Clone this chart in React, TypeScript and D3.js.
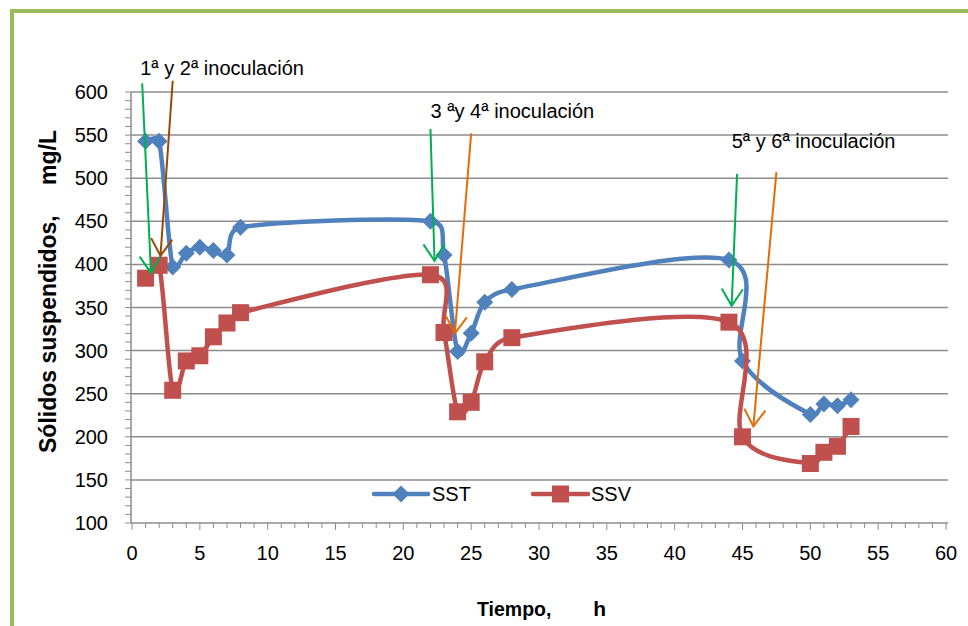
import React from "react";
import * as d3 from "d3";

const sstX = [1, 2, 3, 4, 5, 6, 7, 8, 22, 23, 24, 25, 26, 28, 44, 45, 50, 51, 52, 53];
const sstY = [543, 543, 397, 413, 420, 416, 411, 443, 450, 411, 299, 320, 356, 371, 405, 288, 226, 238, 236, 243];
const ssvX = [1, 2, 3, 4, 5, 6, 7, 8, 22, 23, 24, 25, 26, 28, 44, 45, 50, 51, 52, 53];
const ssvY = [384, 399, 254, 288, 294, 316, 332, 344, 388, 321, 229, 240, 287, 315, 333, 200, 169, 182, 189, 212];
const xTicks = [0, 5, 10, 15, 20, 25, 30, 35, 40, 45, 50, 55, 60];
const yTicks = [100, 150, 200, 250, 300, 350, 400, 450, 500, 550, 600];

// annotation arrows in data units
const arrowData: { x0: number; y0: number; x1: number; y1: number; color: string }[] = [
  { x0: 0.75, y0: 610, x1: 1.4, y1: 390, color: "#00B050" },
  { x0: 3.0, y0: 613, x1: 2.1, y1: 410, color: "#984807" },
  { x0: 22.0, y0: 557, x1: 22.3, y1: 404, color: "#00B050" },
  { x0: 25.0, y0: 552, x1: 23.8, y1: 320, color: "#E36C09" },
  { x0: 44.6, y0: 505, x1: 44.2, y1: 352, color: "#00B050" },
  { x0: 47.5, y0: 507, x1: 45.8, y1: 212, color: "#E36C09" },
];
const labels = ["1ª y 2ª inoculación", "3 ªy 4ª inoculación", "5ª y 6ª inoculación"];
const labelPos = [
  { x: 0.6, y: 620 },
  { x: 22.0, y: 570 },
  { x: 44.2, y: 535 },
];

const W = 968;
const H = 626;
const L = 131, R = 946, T = 92, B = 523;
const FONT = "'Liberation Sans', Arial, sans-serif";

// Excel-like smoothed curve: uniform Catmull-Rom tangents with arm length clamped
function excelSmooth(context: any) {
  let pts: [number, number][] = [];
  return {
    areaStart() {},
    areaEnd() {},
    lineStart() {
      pts = [];
    },
    point(px: number, py: number) {
      pts.push([+px, +py]);
    },
    lineEnd() {
      const n = pts.length;
      if (!n) return;
      context.moveTo(pts[0][0], pts[0][1]);
      for (let i = 0; i < n - 1; i++) {
        const p0 = pts[Math.max(0, i - 1)];
        const p1 = pts[i];
        const p2 = pts[i + 1];
        const p3 = pts[Math.min(n - 1, i + 2)];
        const seg = Math.hypot(p2[0] - p1[0], p2[1] - p1[1]);
        let a1x = (p2[0] - p0[0]) / 6, a1y = (p2[1] - p0[1]) / 6;
        let a2x = (p3[0] - p1[0]) / 6, a2y = (p3[1] - p1[1]) / 6;
        const l1 = Math.hypot(a1x, a1y), l2 = Math.hypot(a2x, a2y);
        const maxL = seg * 0.5;
        if (l1 > maxL && l1 > 0) { a1x *= maxL / l1; a1y *= maxL / l1; }
        if (l2 > maxL && l2 > 0) { a2x *= maxL / l2; a2y *= maxL / l2; }
        context.bezierCurveTo(p1[0] + a1x, p1[1] + a1y, p2[0] - a2x, p2[1] - a2y, p2[0], p2[1]);
      }
    },
  };
}

export default function App() {
  const x = d3.scaleLinear().domain([0, 60]).range([L + 1, R]);
  const y = d3.scaleLinear().domain([100, 600]).range([B, T]);
  const line = d3
    .line<[number, number]>()
    .x((d) => x(d[0]))
    .y((d) => y(d[1]))
    .curve(excelSmooth as any);
  const sst = sstX.map((v, i) => [v, sstY[i]] as [number, number]);
  const ssv = ssvX.map((v, i) => [v, ssvY[i]] as [number, number]);
  const blue = "#4F81BD";
  const red = "#C0504D";
  const grid = "#8C8C8C";
  const minorY = d3.range(100, 601, 10);
  const minorX = d3.range(0, 61, 1);

  const diamond = (cx: number, cy: number, r: number) =>
    `M${cx},${cy - r}L${cx + r},${cy}L${cx},${cy + r}L${cx - r},${cy}Z`;

  const arrow = (a: typeof arrowData[0], i: number) => {
    const x0 = x(a.x0), y0 = y(a.y0), x1 = x(a.x1), y1 = y(a.y1);
    const ang = Math.atan2(y1 - y0, x1 - x0);
    const len = 20;
    const sp = (32 * Math.PI) / 180;
    const w1x = x1 - len * Math.cos(ang - sp), w1y = y1 - len * Math.sin(ang - sp);
    const w2x = x1 - len * Math.cos(ang + sp), w2y = y1 - len * Math.sin(ang + sp);
    return (
      <g key={"a" + i} stroke={a.color} strokeWidth={2} fill="none">
        <line x1={x0} y1={y0} x2={x1} y2={y1} />
        <polyline points={`${w1x},${w1y} ${x1},${y1} ${w2x},${w2y}`} />
      </g>
    );
  };

  return (
    <svg width={W} height={H} style={{ position: "absolute", left: 0, top: 0, background: "#fff" }} fontFamily={FONT}>
      <rect x={0} y={0} width={W} height={H} fill="#fff" />
      {/* green frame */}
      <line x1={12} y1={11} x2={W} y2={11} stroke="#9BBB59" strokeWidth={4} />
      <line x1={12} y1={9} x2={12} y2={H} stroke="#9BBB59" strokeWidth={4} />

      {/* gridlines */}
      {yTicks.slice(1).map((t) => (
        <line key={"g" + t} x1={L} x2={R + 2} y1={y(t)} y2={y(t)} stroke={grid} strokeWidth={1.5} />
      ))}
      {/* axes */}
      <line x1={L} x2={L} y1={T} y2={B} stroke={grid} strokeWidth={1.5} />
      <line x1={L} x2={R + 2} y1={B} y2={B} stroke={grid} strokeWidth={1.5} />
      {minorY.map((t) => (
        <line key={"my" + t} x1={L - 6} x2={L} y1={y(t)} y2={y(t)} stroke={grid} strokeWidth={1} />
      ))}
      {minorX.map((t) => (
        <line key={"mx" + t} x1={x(t)} x2={x(t)} y1={B} y2={B + (t % 5 === 0 ? 7 : 5)} stroke={grid} strokeWidth={1} />
      ))}
      {yTicks.map((t) => (
        <text key={"yl" + t} x={108} y={y(t) + 7} textAnchor="end" fontSize={20} fill="#000">
          {t}
        </text>
      ))}
      {xTicks.map((t) => (
        <text key={"xl" + t} x={x(t)} y={560} textAnchor="middle" fontSize={20} fill="#000">
          {t}
        </text>
      ))}

      {/* axis titles */}
      <g transform="translate(56,0) rotate(-90)" fontWeight="bold" fontSize={23}>
        <text x={-453} y={0} textAnchor="start">Sólidos suspendidos,</text>
        <text x={-130} y={0} textAnchor="end">mg/L</text>
      </g>
      <text x={477} y={616} fontSize={19.5} fontWeight="bold">Tiempo,</text>
      <text x={606} y={616} fontSize={21} fontWeight="bold" textAnchor="end">h</text>

      {/* series */}
      <path d={line(sst) || ""} fill="none" stroke={blue} strokeWidth={4.5} />
      {sst.map((d, i) => (
        <path key={"d" + i} d={diamond(x(d[0]), y(d[1]), 8.5)} fill={blue} />
      ))}
      <path d={line(ssv) || ""} fill="none" stroke={red} strokeWidth={4.5} />
      {ssv.map((d, i) => (
        <rect key={"s" + i} x={x(d[0]) - 8.5} y={y(d[1]) - 8.5} width={17} height={17} fill={red} />
      ))}

      {/* legend */}
      <line x1={374} x2={428} y1={494} y2={494} stroke={blue} strokeWidth={4.5} strokeLinecap="round" />
      <path d={diamond(401, 494, 8.5)} fill={blue} />
      <text x={432} y={501} fontSize={20}>SST</text>
      <line x1={533} x2={588} y1={494} y2={494} stroke={red} strokeWidth={4.5} strokeLinecap="round" />
      <rect x={552} y={485.5} width={17} height={17} fill={red} />
      <text x={591} y={501} fontSize={20}>SSV</text>

      {/* annotations */}
      {labels.map((s, i) => (
        <text key={"t" + i} x={x(labelPos[i].x)} y={y(labelPos[i].y)} fontSize={20} style={{ whiteSpace: "pre" }}>
          {s}
        </text>
      ))}
      {arrowData.map(arrow)}
    </svg>
  );
}
